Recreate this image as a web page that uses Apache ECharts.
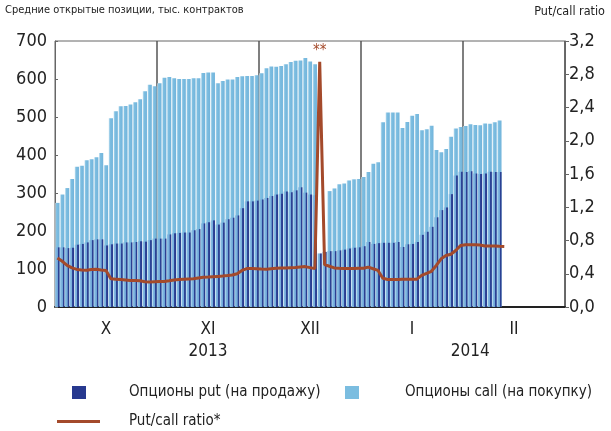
<html>
    <head>
        <meta charset="utf-8"/>
        <title>Опционы</title>
        <script src="https://cdn.jsdelivr.net/npm/echarts@6/dist/echarts.min.js"></script>
        <style>
            body { margin: 0; background: #fff; }
        </style>
    </head>
    <body>
        <div id="main" style="width: 611px;height:431px;"></div>
        <script type="text/javascript">
            // месяцы на оси, по 21 торговому слоту в месяце
            var months = ['X', 'XI', 'XII', 'I', 'II'];
            var slotsPerMonth = 21;
            var years = [{ label: '2013', slot: 31 }, { label: '2014', slot: 85 }];

            // опционы call (на покупку), тыс. контрактов
            var callData = [
                274, 296, 313, 337, 369, 372, 386, 389, 394, 405, 373, 497, 515, 528, 529, 533, 539, 547, 568, 585, 581,
                589, 603, 605, 602, 600, 600, 600, 602, 602, 616, 617, 617, 589, 595, 599, 599, 605, 607, 608, 608, 610,
                615, 628, 633, 632, 634, 639, 645, 648, 649, 655, 646, 639, 48, null, 305, 312, 323, 325, 333, 336, 337,
                342, 355, 377, 381, 486, 512, 512, 512, 471, 487, 503, 508, 465, 468, 477, 413, 407, 416, 448, 470, 474,
                476, 481, 479, 478, 483, 482, 486, 491
            ];
            // опционы put (на продажу)
            var putData = [
                157, 157, 155, 156, 164, 166, 170, 176, 178, 178, 162, 165, 167, 167, 170, 170, 171, 173, 172, 176, 180,
                180, 180, 191, 194, 195, 196, 196, 202, 205, 220, 223, 228, 217, 222, 231, 235, 241, 260, 278, 278, 280,
                283, 287, 292, 296, 298, 304, 302, 307, 315, 301, 296, 294, 141, 145, 147, 147, 149, 151, 154, 156, 157,
                160, 171, 166, 168, 169, 169, 169, 171, 158, 165, 166, 171, 190, 198, 211, 236, 255, 262, 297, 346, 356,
                355, 357, 351, 350, 351, 356, 355, 355
            ];
            // put/call ratio
            var ratioData = [
                0.59, 0.55, 0.50, 0.47, 0.452, 0.446, 0.442, 0.45, 0.455, 0.446, 0.44, 0.34, 0.335, 0.33, 0.325, 0.32, 0.32, 0.315, 0.305, 0.302, 0.305,
                0.306, 0.306, 0.315, 0.325, 0.33, 0.335, 0.338, 0.34, 0.35, 0.358, 0.36, 0.364, 0.368, 0.372, 0.378, 0.385, 0.40, 0.44, 0.462, 0.462, 0.46,
                0.456, 0.454, 0.46, 0.466, 0.468, 0.47, 0.472, 0.474, 0.48, 0.486, 0.474, 0.462, 2.95, 0.51, 0.49, 0.47, 0.465, 0.462, 0.462, 0.462, 0.466,
                0.466, 0.48, 0.46, 0.44, 0.345, 0.33, 0.33, 0.33, 0.335, 0.335, 0.335, 0.335, 0.38, 0.405, 0.43, 0.50, 0.58, 0.62, 0.635, 0.68, 0.74,
                0.75, 0.75, 0.75, 0.745, 0.735, 0.735, 0.735, 0.73, 0.727
            ];
            var spikeIndex = 54;
            var leftTicks = [0, 100, 200, 300, 400, 500, 600, 700];
            var rightTicks = [0, 0.4, 0.8, 1.2, 1.6, 2.0, 2.4, 2.8, 3.2];

            var categories = [];
            months.forEach(function (m) {
                for (var d = 0; d < slotsPerMonth; d++) categories.push(m + '-' + (d + 1));
            });
            var labelAt = {};
            months.forEach(function (m, i) { labelAt[i * slotsPerMonth + 10] = m; });
            years.forEach(function (y) { labelAt[y.slot] = '\n' + y.label; });
            labelAt[years[0].slot] = months[1] + '\n' + years[0].label;

            var font = '"Liberation Sans Narrow", "DejaVu Sans Condensed", sans-serif';
            var brown = '#A44A2B';

            var chartDom = document.getElementById('main');
            var myChart = echarts.init(chartDom);
            var option = {
                animation: false,
                textStyle: { fontFamily: font },
                title: [{
                    text: 'Средние открытые позиции, тыс. контрактов',
                    left: 0, top: 0,
                    textStyle: { fontSize: 11, fontWeight: 'normal', color: '#222', fontFamily: font }
                }, {
                    text: 'Put/call ratio',
                    right: 1, top: 0,
                    textStyle: { fontSize: 12.5, fontWeight: 'normal', color: '#222', fontFamily: font }
                }],
                legend: [{
                    left: 72, top: 385, padding: 0, itemWidth: 14, itemHeight: 13, icon: 'rect',
                    data: [{ name: 'Опционы put (на продажу)', itemStyle: { color: '#27398F' } }],
                    textStyle: { fontSize: 15, color: '#222', padding: [0, 0, 0, 38] }
                }, {
                    left: 345, top: 385, padding: 0, itemWidth: 14, itemHeight: 13, icon: 'rect',
                    data: [{ name: 'Опционы call (на покупку)', itemStyle: { color: '#7BBDE0' } }],
                    textStyle: { fontSize: 15, color: '#222', padding: [0, 0, 0, 41] }
                }, {
                    left: 57, top: 414, padding: 0, itemWidth: 43, itemHeight: 3, icon: 'rect',
                    data: [{ name: 'Put/call ratio*', itemStyle: { color: brown } }],
                    textStyle: { fontSize: 15, color: '#222', padding: [0, 0, 0, 24] }
                }],
                grid: {
                    left: 55, right: 46, top: 41, bottom: 124,
                    show: true, borderColor: '#666', borderWidth: 1
                },
                xAxis: {
                    type: 'category',
                    data: categories,
                    boundaryGap: true,
                    axisLine: { lineStyle: { color: '#222', width: 2 } },
                    axisTick: { show: false },
                    axisLabel: {
                        interval: function (i) { return labelAt[i] !== undefined; },
                        formatter: function (v, i) { return labelAt[i] || ''; },
                        fontSize: 17, color: '#222', margin: 12, lineHeight: 22
                    },
                    splitLine: {
                        show: true,
                        interval: function (i) { return i > 0 && i % slotsPerMonth === 0; },
                        lineStyle: { color: '#555', width: 1.5 }
                    }
                },
                yAxis: [{
                    type: 'value',
                    min: leftTicks[0], max: leftTicks[leftTicks.length - 1], interval: 100,
                    axisLine: { show: true, lineStyle: { color: '#666' } },
                    axisTick: { show: true, inside: true, length: 3, lineStyle: { color: '#666' } },
                    axisLabel: { fontSize: 18, color: '#222', margin: 8 },
                    splitLine: { show: false }
                }, {
                    type: 'value',
                    min: rightTicks[0], max: rightTicks[rightTicks.length - 1], interval: 0.4,
                    axisLine: { show: true, lineStyle: { color: '#666' } },
                    axisTick: { show: true, length: 4, lineStyle: { color: '#666' } },
                    axisLabel: {
                        fontSize: 18, color: '#222', margin: 4,
                        formatter: function (v) { return v.toFixed(1).replace('.', ','); }
                    },
                    splitLine: { show: false }
                }],
                series: [{
                    name: 'Опционы call (на покупку)',
                    type: 'bar',
                    data: callData,
                    barWidth: 4.2,
                    itemStyle: {
                        color: new echarts.graphic.LinearGradient(0, 0, 1, 0, [
                            { offset: 0, color: '#CFE6F3' },
                            { offset: 0.3, color: '#7DBEE1' },
                            { offset: 1, color: '#72B4DB' }
                        ])
                    }
                }, {
                    name: 'Опционы put (на продажу)',
                    type: 'bar',
                    data: putData,
                    barWidth: 4.2,
                    barGap: '-100%',
                    itemStyle: {
                        color: new echarts.graphic.LinearGradient(0, 0, 1, 0, [
                            { offset: 0, color: '#8CC3E6' },
                            { offset: 0.58, color: '#6EA4D6' },
                            { offset: 0.6, color: '#30469A' },
                            { offset: 1, color: '#24378A' }
                        ])
                    }
                }, {
                    name: 'Put/call ratio*',
                    type: 'line',
                    yAxisIndex: 1,
                    symbol: 'none',
                    z: 5,
                    lineStyle: { color: brown, width: 3 },
                    itemStyle: { color: brown },
                    data: ratioData,
                    markPoint: {
                        symbol: 'circle',
                        symbolSize: 0,
                        silent: true,
                        label: {
                            show: true, position: 'top', distance: 3,
                            formatter: '**', color: brown, fontSize: 15
                        },
                        data: [{ coord: [spikeIndex, ratioData[spikeIndex]] }]
                    }
                }]
            };
            myChart.setOption(option);
        </script>
    </body>
</html>
